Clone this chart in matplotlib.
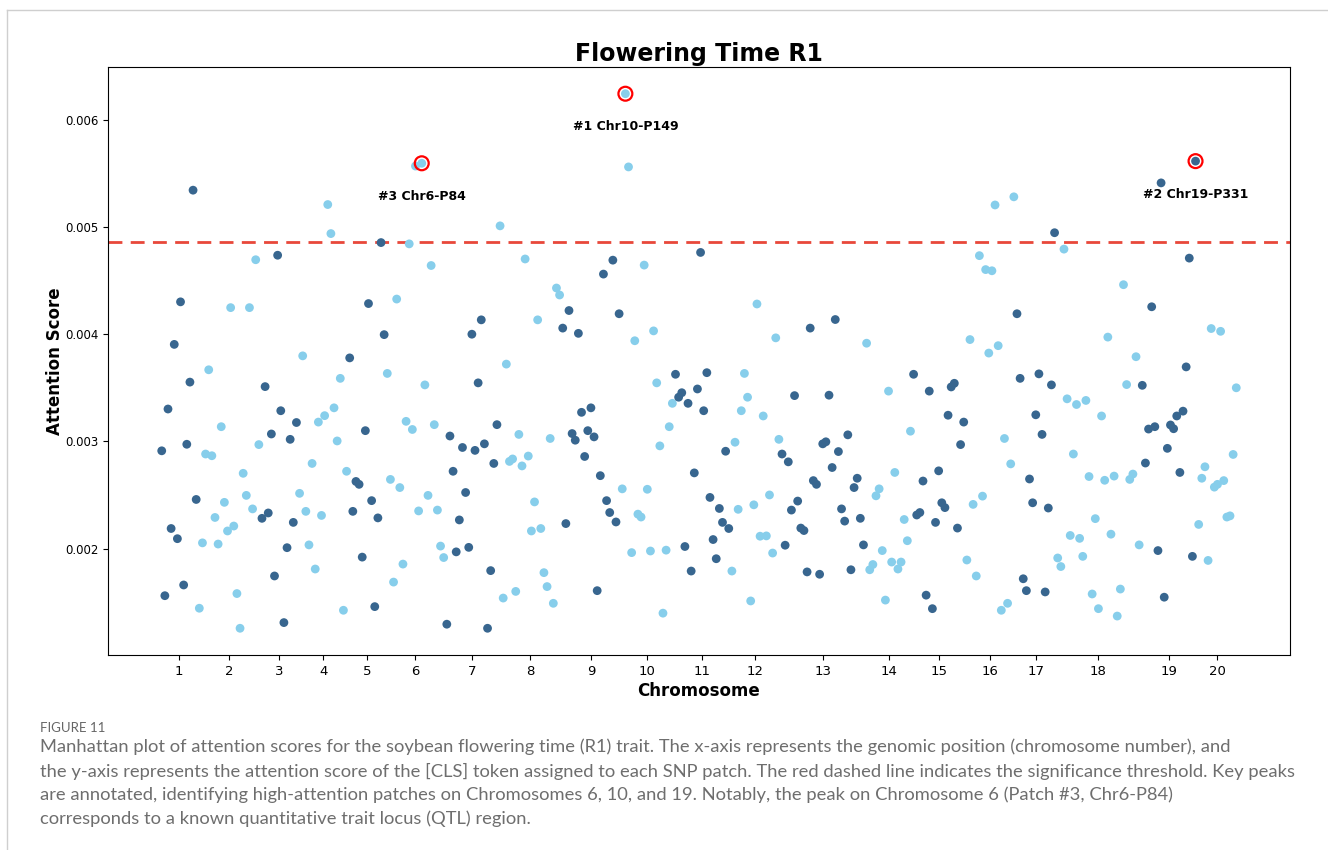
import numpy as np
import matplotlib
matplotlib.use("Agg")
import matplotlib.pyplot as plt
from matplotlib.lines import Line2D

# ---------------- data (attention score per SNP patch, grouped by chromosome) ----------------
chr01 = [0.002912, 0.00156, 0.003302, 0.002187, 0.003905, 0.002092, 0.004302, 0.00166, 0.002973, 0.003553, 0.005344, 0.002458]
chr02 = [0.001443, 0.002053, 0.002882, 0.003668, 0.002866, 0.00229, 0.002042, 0.003137, 0.002431, 0.002164, 0.004248, 0.00221, 0.00158, 0.001256, 0.002702, 0.002496, 0.004248, 0.00237, 0.004695, 0.00297]
chr03 = [0.002282, 0.003511, 0.002332, 0.003069, 0.001744, 0.004737, 0.003286, 0.001309, 0.002008, 0.003019, 0.002244, 0.003176]
chr04 = [0.002515, 0.003798, 0.002347, 0.002034, 0.002794, 0.001809, 0.00318, 0.002309, 0.00324, 0.00521, 0.004939, 0.003313, 0.003004, 0.003588, 0.001424, 0.002721]
chr05 = [0.003779, 0.002347, 0.002626, 0.002599, 0.00192, 0.0031, 0.004286, 0.002447, 0.001458, 0.002286, 0.004855, 0.003996]
chr06 = [0.003634, 0.002645, 0.001687, 0.004328, 0.002569, 0.001855, 0.003187, 0.004843, 0.003111, 0.005569, 0.002351, 0.005595, 0.003527, 0.002496, 0.004641, 0.003156, 0.002359, 0.002023, 0.001916]
chr07 = [0.001294, 0.00305, 0.002721, 0.001969, 0.002267, 0.002943, 0.002523, 0.002011, 0.004, 0.002916, 0.003546, 0.004134, 0.002977, 0.001256, 0.001794, 0.002794, 0.003156]
chr08 = [0.005011, 0.001538, 0.003721, 0.002813, 0.002836, 0.0016, 0.003065, 0.002771, 0.004702, 0.002863, 0.002164, 0.002435, 0.004134, 0.002187, 0.001775, 0.001645, 0.003027, 0.001489, 0.004431, 0.004366]
chr09 = [0.004057, 0.002233, 0.004221, 0.003073, 0.003011, 0.004008, 0.003271, 0.002859, 0.0031, 0.003313, 0.003042, 0.001607, 0.00268, 0.004561, 0.002447, 0.002336, 0.004691, 0.002248, 0.004191]
chr10 = [0.002557, 0.006244, 0.005561, 0.001962, 0.003939, 0.002321, 0.002294, 0.004645, 0.002553, 0.001977, 0.004031, 0.003546, 0.002958, 0.001397, 0.001985, 0.003137, 0.003355]
chr11 = [0.003626, 0.003412, 0.003454, 0.002019, 0.003355, 0.00179, 0.002706, 0.003489, 0.004763, 0.003286, 0.003641, 0.002477, 0.002084, 0.001905, 0.002374, 0.002244, 0.002908, 0.002187]
chr12 = [0.00179, 0.002992, 0.002366, 0.003286, 0.003634, 0.003412, 0.001511, 0.002408, 0.004282, 0.002115, 0.003237, 0.002118, 0.0025, 0.001958, 0.003966, 0.003019]
chr13 = [0.002882, 0.002031, 0.002809, 0.002359, 0.003427, 0.002443, 0.002191, 0.002168, 0.001782, 0.004057, 0.002634, 0.002599, 0.00176, 0.002977, 0.002996, 0.003431, 0.002756, 0.004137, 0.002905, 0.00237, 0.002256, 0.003061, 0.001802, 0.002569, 0.002656, 0.002282, 0.002034]
chr14 = [0.003916, 0.001802, 0.001851, 0.002492, 0.002557, 0.001981, 0.001519, 0.003469, 0.001874, 0.00271, 0.001809, 0.001874, 0.002271, 0.002073, 0.003095]
chr15 = [0.003626, 0.002313, 0.002336, 0.00263, 0.001565, 0.003469, 0.001439, 0.002244, 0.002725, 0.002427, 0.002382, 0.003244, 0.003508, 0.003542, 0.002191, 0.00297, 0.00318]
chr16 = [0.001893, 0.00395, 0.002412, 0.001744, 0.004733, 0.002489, 0.004603, 0.003824, 0.004592, 0.005206, 0.003893, 0.001424, 0.003027, 0.001489, 0.00279, 0.005282]
chr17 = [0.004191, 0.003588, 0.001718, 0.001607, 0.002649, 0.002427, 0.003248, 0.00363, 0.003065, 0.001595, 0.002378, 0.003527, 0.004947]
chr18 = [0.001912, 0.001832, 0.004794, 0.003397, 0.002122, 0.002882, 0.003344, 0.002095, 0.001927, 0.003382, 0.002672, 0.001576, 0.002279, 0.001439, 0.003237, 0.002637, 0.003973, 0.002134, 0.002676, 0.00137, 0.001622, 0.004462, 0.00353, 0.002645, 0.002695, 0.00379, 0.002034]
chr19 = [0.003523, 0.002798, 0.003115, 0.004256, 0.003137, 0.001981, 0.005412, 0.001546, 0.002935, 0.003153, 0.003118, 0.003237, 0.00271, 0.003282, 0.003695, 0.00471, 0.001927, 0.005615]
chr20 = [0.002225, 0.002656, 0.002763, 0.001889, 0.004053, 0.002573, 0.002599, 0.004027, 0.002634, 0.002294, 0.002305, 0.002878, 0.0035]

chromosome_labels = [str(i) for i in range(1, 21)]
threshold = 0.00486
n_top = 3

title = "Flowering Time R1"
xlabel = "Chromosome"
ylabel = "Attention Score"
fig_label = "FIGURE 11"
caption_lines = [
    "Manhattan plot of attention scores for the soybean flowering time (R1) trait. The x-axis represents the genomic position (chromosome number), and",
    "the y-axis represents the attention score of the [CLS] token assigned to each SNP patch. The red dashed line indicates the significance threshold. Key peaks",
    "are annotated, identifying high-attention patches on Chromosomes 6, 10, and 19. Notably, the peak on Chromosome 6 (Patch #3, Chr6-P84)",
    "corresponds to a known quantitative trait locus (QTL) region.",
]

# ---------------- build ----------------
groups = [chr01, chr02, chr03, chr04, chr05, chr06, chr07, chr08, chr09, chr10,
          chr11, chr12, chr13, chr14, chr15, chr16, chr17, chr18, chr19, chr20]
scores = np.concatenate([np.asarray(g) for g in groups])
chrom = np.concatenate([np.full(len(g), i + 1) for i, g in enumerate(groups)])
patch = np.arange(1, len(scores) + 1)

dark = "#38668f"
light = "#87ceeb"
colors = [dark if c % 2 == 1 else light for c in chrom]

W, H = 1328, 850
fig = plt.figure(figsize=(W / 100, H / 100), dpi=100)
ax = fig.add_axes([108 / W, (H - 655) / H, (1290 - 108) / W, (655 - 67) / H])

ax.scatter(patch, scores, c=colors, s=40, linewidths=0, zorder=2)
ax.axhline(threshold, color="#e8483a", linestyle=(0, (5, 3)), linewidth=2, zorder=1)

order = np.argsort(scores)[::-1][:n_top]
for rank, idx in enumerate(order, start=1):
    ax.scatter([patch[idx]], [scores[idx]], s=100, facecolors="none",
               edgecolors="red", linewidths=1.6, zorder=3)
    ax.annotate(f"#{rank} Chr{chrom[idx]}-P{patch[idx]}", (patch[idx], scores[idx]),
                xytext=(0, -19), textcoords="offset points", ha="center", va="top",
                fontsize=9, fontweight="bold", zorder=4)

centers = [patch[chrom == i + 1].mean() for i in range(len(groups))]
ax.set_xticks(centers)
ax.set_xticklabels(chromosome_labels, fontsize=9.5)
ax.set_yticks([0.002, 0.003, 0.004, 0.005, 0.006])
ax.set_yticklabels(["0.002", "0.003", "0.004", "0.005", "0.006"], fontsize=8.5)
ax.margins(x=0.05, y=0.05)

ax.set_title(title, fontsize=17, fontweight="bold", pad=4)
ax.set_xlabel(xlabel, fontsize=12, fontweight="bold", labelpad=3)
ax.set_ylabel(ylabel, fontsize=12, fontweight="bold", labelpad=0.5)

# page frame lines
fig.add_artist(Line2D([7 / W, 7 / W], [0, 1 - 10 / H], color="#cfcfcf", lw=1))
fig.add_artist(Line2D([7 / W, 1], [1 - 10 / H, 1 - 10 / H], color="#cfcfcf", lw=1))

# caption
cap_font = ["Lato", "DejaVu Sans"]
fig.text(40 / W, 1 - 728 / H, fig_label, fontsize=9.5, color="#666666",
         family=cap_font, va="center", ha="left")
line_y = [747, 771, 795, 819]
for ly, txt in zip(line_y, caption_lines):
    fig.text(40 / W, 1 - ly / H, txt, fontsize=13.2, color="#6e6e6e",
             family=cap_font, va="center", ha="left")

fig.savefig("out.png", dpi=100)
